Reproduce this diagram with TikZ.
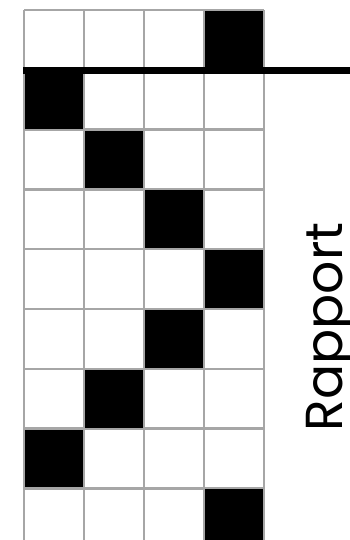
\documentclass[tikz,border=0pt]{standalone}
\usepackage{fontspec}
\newfontfamily\labelfont{Poppins}
\usepackage{tikz}
\usetikzlibrary{positioning}

\begin{document}
\begin{tikzpicture}[x=1pt,y=-1pt,
  cell/.style={fill=black},
  gridline/.style={draw=black!35, line width=2.5pt},
  comment/.style={rotate=90, anchor=base, inner sep=0pt, font=\labelfont\fontsize{52}{60}\selectfont}]
\clip (0,0) rectangle (350,540);

% grid of 4 threads
\foreach \i in {0,...,4}
  \draw [gridline] (24+60*\i,10) -- (24+60*\i,560);
\foreach \j in {0,...,9}
  \draw [gridline] (24,10+59.8*\j) -- (264,10+59.8*\j);

% black square of each row
\foreach \c [count=\r from 0] in {3,0,1,2,3,2,1,0,3}
  \fill [cell] (25+60*\c,11+59.8*\r) rectangle ++(58,57.8);

\coordinate (start) at (23,71);
\coordinate (end) at (350,71);
\draw [line width=7pt] (start) -- (end);

\node [comment] (rapport) at (342,327) {Rapport};

\end{tikzpicture}
\end{document}
